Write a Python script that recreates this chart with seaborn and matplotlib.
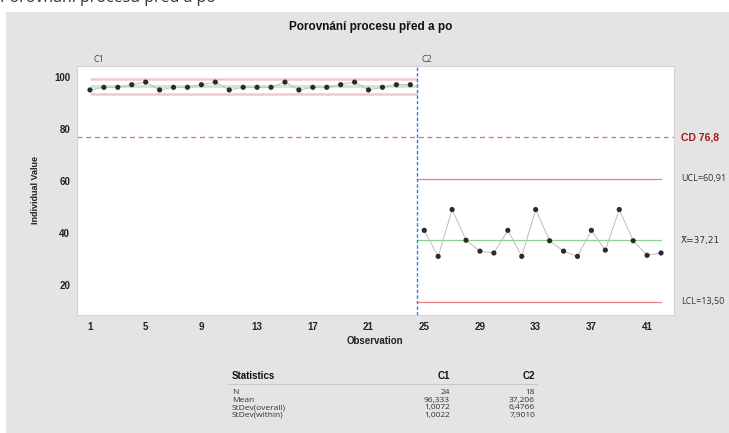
import numpy as np
import pandas as pd
import matplotlib
matplotlib.use("Agg")
import matplotlib.pyplot as plt
import seaborn as sns
from matplotlib.lines import Line2D

# ---------------- data ----------------
c1_values = [95, 96, 96, 97, 98, 95, 96, 96, 97, 98, 95, 96,
             96, 96, 98, 95, 96, 96, 97, 98, 95, 96, 97, 97]
c2_values = [41, 31, 49, 37.2, 33, 32.3, 41, 31, 49, 37, 33, 31,
             41, 33.4, 49, 37, 31.4, 32.3]
stages = ["C1", "C2"]
center = [96.333, 37.206]
ucl = [99.34, 60.91]
lcl = [93.33, 13.50]
cd_value = 76.8
x_ticks = [1, 5, 9, 13, 17, 21, 25, 29, 33, 37, 41]
y_ticks = [20, 40, 60, 80, 100]
stat_rows = ["N", "Mean", "StDev(overall)", "StDev(within)"]
stat_c1 = ["24", "96,333", "1,0072", "1,0022"]
stat_c2 = ["18", "37,206", "6,4766", "7,9010"]
title = "Porovnání procesu před a po"

df = pd.DataFrame({
    "obs": np.arange(1, len(c1_values) + len(c2_values) + 1),
    "value": c1_values + c2_values,
    "stage": ["C1"] * len(c1_values) + ["C2"] * len(c2_values),
})

# ---------------- figure ----------------
sns.set_theme(style="white")
plt.rcParams["font.family"] = ["Liberation Sans", "DejaVu Sans"]

W, H = 729, 433
fig = plt.figure(figsize=(W / 100, H / 100), dpi=100)
fig.patch.set_facecolor("white")

def fx(px):
    return px / W

def fy(py):
    return 1 - py / H

# gray panel (background axes)
bg = fig.add_axes([fx(6), 0, 1 - fx(6), fy(12)], zorder=-10)
bg.set_facecolor("#e4e4e4")
bg.set_xticks([])
bg.set_yticks([])
for s in bg.spines.values():
    s.set_visible(False)

ax = fig.add_axes([fx(77), fy(315), fx(674) - fx(77), (315 - 66) / H], zorder=1)
ax.set_facecolor("white")

n1 = len(c1_values)
sns.lineplot(data=df, x="obs", y="value", hue="stage", palette=["#bdbdbd", "#bdbdbd"],
             estimator=None, legend=False, lw=0.7, ax=ax, zorder=3)
sns.scatterplot(data=df, x="obs", y="value", color="#2b2b2b", s=14, edgecolor="none",
                ax=ax, zorder=4, legend=False)

# control limits
split = n1 + 0.5
for v in (ucl[0], lcl[0]):
    ax.plot([1, split], [v, v], color="#f0caca", lw=1.8, zorder=2, solid_capstyle="butt")
ax.plot([1, split], [center[0], center[0]], color="#cfe8cf", lw=2.2, zorder=2, solid_capstyle="butt")
for v in (ucl[1], lcl[1]):
    ax.plot([split, len(df)], [v, v], color="#ea8080", lw=0.9, zorder=2)
ax.plot([split, len(df)], [center[1], center[1]], color="#8fd08f", lw=0.9, zorder=2)

ax.axhline(cd_value, color="#e8696b", lw=0.9, ls=(0, (4, 3)), zorder=2)
ax.axvline(split, color="#2f80dc", lw=1.0, ls=(0, (2.5, 1.5)), zorder=5)

ax.set_xlim(0.07, 42.93)
ax.set_ylim(8.45, 104.2)
ax.set_xticks(x_ticks)
ax.set_yticks(y_ticks)
ax.set_xticklabels([str(t) for t in x_ticks], fontsize=7, fontweight="bold")
ax.set_yticklabels([str(t) for t in y_ticks], fontsize=7, fontweight="bold")
ax.tick_params(axis="both", length=2, width=0.5, color="#b0b0b0", pad=3, labelcolor="#222222")
for s in ["top", "right", "left", "bottom"]:
    ax.spines[s].set_color("#d4d4d4")
    ax.spines[s].set_linewidth(0.8)
ax.set_xlabel("Observation", fontsize=7, fontweight="bold", color="#222222")
ax.xaxis.set_label_coords((375 - 77) / 597, -(336 - 315) / 249)
ax.set_ylabel("Individual Value", fontsize=6.5, fontweight="bold", color="#222222")
ax.yaxis.set_label_coords(-(77 - 40) / 597, (315 - 190) / 249)

# right side labels
tr = ax.get_yaxis_transform()
xr = (681 - 77) / 597
ax.text(xr, cd_value, "CD 76,8", transform=tr, color="#a31515", fontsize=7.5,
        fontweight="bold", va="center", ha="left", clip_on=False)
ax.text(xr, ucl[1], "UCL=60,91", transform=tr, color="#333333", fontsize=6.5,
        va="center", ha="left", clip_on=False, family=["Open Sans", "DejaVu Sans"])
ax.text(xr, center[1], "X\u0304=37,21", transform=tr, color="#333333", fontsize=6.5,
        va="center", ha="left", clip_on=False, family=["DejaVu Sans"])
ax.text(xr, lcl[1], "LCL=13,50", transform=tr, color="#333333", fontsize=6.5,
        va="center", ha="left", clip_on=False, family=["Open Sans", "DejaVu Sans"])

# stage labels
fig.text(fx(93), fy(60), stages[0], fontsize=6.5, color="#444444", va="center",
         family=["Open Sans", "DejaVu Sans"])
fig.text(fx(422), fy(60), stages[1], fontsize=6.5, color="#444444", va="center",
         family=["Open Sans", "DejaVu Sans"])

# titles
fig.text(fx(371), fy(27), title, fontsize=8.5, fontweight="bold", color="#111111",
         ha="center", va="center")
fig.text(0.0, fy(1.5), title, fontsize=11.5, color="#333333", ha="left", va="baseline",
         family=["Open Sans", "DejaVu Sans"])

# statistics table
hkw = dict(fontsize=7, fontweight="bold", color="#111111", va="center")
fig.text(fx(232), fy(376), "Statistics", ha="left", **hkw)
fig.text(fx(450), fy(376), stages[0], ha="right", **hkw)
fig.text(fx(535), fy(376), stages[1], ha="right", **hkw)
fig.lines.append(Line2D([fx(228), fx(537)], [fy(384), fy(384)], transform=fig.transFigure,
                        color="#c8c8c8", lw=0.8))
row_y = [393, 400.5, 408, 415.5]
for lab, a, b, yy in zip(stat_rows, stat_c1, stat_c2, row_y):
    kw = dict(fontsize=6.0, color="#333333", va="center", family=["Open Sans", "DejaVu Sans"])
    fig.text(fx(232), fy(yy), lab, ha="left", **kw)
    fig.text(fx(450), fy(yy), a, ha="right", **kw)
    fig.text(fx(535), fy(yy), b, ha="right", **kw)

fig.savefig("out.png", dpi=100)
